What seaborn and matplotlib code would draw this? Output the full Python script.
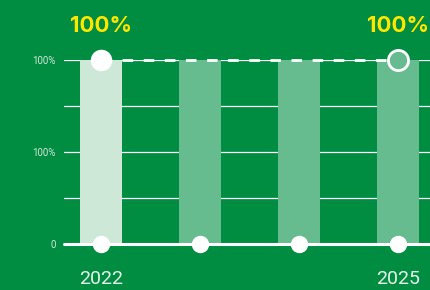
import seaborn as sns
import matplotlib.pyplot as plt
import pandas as pd

# Data
years = ['2022', '2023', '2024', '2025']
values = [100, 100, 100, 100]
bar_colors = ['#cde8d6', '#66bb8f', '#66bb8f', '#66bb8f']
top_labels = ['100%', '', '', '100%']

df = pd.DataFrame({'year': years, 'value': values})

bg = '#008c41'
sns.set_style('white')
plt.rcParams['font.family'] = ['Roboto', 'DejaVu Sans']

fig = plt.figure(figsize=(4.3, 2.9), dpi=100, facecolor=bg)
ax = fig.add_axes([64 / 430, 46 / 290, 366 / 430, 184 / 290])
ax.set_facecolor(bg)

# grid lines behind bars
for g in [25, 50, 75, 100]:
    ax.axhline(g, color='white', lw=0.9, zorder=0)

sns.barplot(data=df, x='year', y='value', hue='year', palette=bar_colors,
            width=0.42, legend=False, ax=ax, zorder=2, saturation=1,
            linewidth=0, edgecolor='none')

# baseline
ax.axhline(0, color='white', lw=2.2, zorder=3, clip_on=False)

# dashed line between first and last
ax.plot([0, 3], [values[0], values[3]], color='white', lw=2, dashes=(3.8, 3.8),
        zorder=4, clip_on=False)
# markers
ax.plot([0], [values[0]], 'o', ms=14.5, color='white', zorder=5, clip_on=False)
ax.plot([3], [values[3]], 'o', ms=14.5, mfc=bar_colors[3], mec='white', mew=2,
        zorder=5, clip_on=False)
ax.plot(range(len(years)), [0] * len(years), 'o', ms=11.5, color='white',
        zorder=5, clip_on=False, lw=0)

for i, lab in enumerate(top_labels):
    if lab:
        ax.annotate(lab, (i, values[i]), xytext=(0, 34), textcoords='offset pixels',
                    ha='center', va='center', color='#ffe600', fontsize=16,
                    fontweight='bold', family=['Inter', 'DejaVu Sans'],
                    annotation_clip=False)

ax.set_xlim(-0.37, 3.32)
ax.set_ylim(0, 100)
ax.set_yticks([0, 25, 50, 75, 100])
ax.set_yticklabels(['0', '', '100%', '', '100%'], fontsize=7, color='#cfe9d8')
ax.set_xticks([0, 3])
ax.set_xticklabels(['2022', '2025'], fontsize=14, color='#e6f4ea')
ax.tick_params(axis='x', length=0, pad=19)
ax.tick_params(axis='y', length=0, pad=6)
ax.set_xlabel('')
ax.set_ylabel('')
sns.despine(ax=ax, left=True, bottom=True, top=True, right=True)

fig.savefig('out.png', dpi=100, facecolor=bg)
